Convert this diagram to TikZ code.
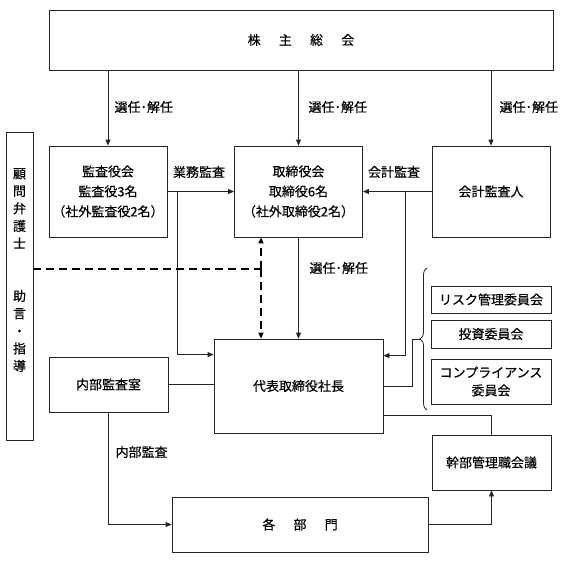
\documentclass[tikz,border=0pt]{standalone}
\usepackage{fontspec}
\setmainfont{Noto Sans CJK JP}[BoldFont={Noto Sans CJK JP},BoldFeatures={FakeBold=0.4}]
\usepackage{tikz}
\usetikzlibrary{arrows.meta}
\usetikzlibrary{decorations.pathreplacing}

\begin{document}
\begin{tikzpicture}[x=1pt,y=-1pt,>={Triangle[length=6pt,width=5pt]},
  every node/.style={font=\fontsize{13pt}{20pt}\selectfont\bfseries},
  box/.style={draw=black!85,line width=0.8pt,inner sep=0pt,align=center},
  line/.style={draw=black!85,line width=0.8pt},
  dashline/.style={draw=black,line width=1.6pt,dash pattern=on 8pt off 5pt}]
  \useasboundingbox (0,0) rectangle (567,567);
  \node [box,minimum width=504,minimum height=60] (kabu) at (301,40) {株\hspace{1.4em}主\hspace{1.4em}総\hspace{1.4em}会};
  \node [box,minimum width=118,minimum height=91] (kansa) at (108,191.5) {監査役会\\監査役3名\\（社外監査役2名）};
  \node [box,minimum width=128,minimum height=91] (tori) at (298.5,191.5) {取締役会\\取締役6名\\（社外取締役2名）};
  \node [box,minimum width=118,minimum height=91] (kaikei) at (491,191.5) {会計監査人};
  \node [box,minimum width=27,minimum height=308] (komon) at (19.5,286) {};
  \node [align=center,inner sep=0pt,font=\fontsize{13pt}{17.5pt}\selectfont\bfseries] (komontext) at (19.5,270)
    {顧\\問\\弁\\護\\士\\[35pt]助\\言\\・\\指\\導};
  \node [box,minimum width=169,minimum height=94] (daihyo) at (298.5,386) {代表取締役社長};
  \node [box,minimum width=119,minimum height=55] (naibu) at (108.5,384.5) {内部監査室};
  \node [box,minimum width=120,minimum height=27] (risk) at (491,299.5) {リスク管理委員会};
  \node [box,minimum width=120,minimum height=28] (toushi) at (491,334) {投資委員会};
  \node [box,minimum width=120,minimum height=45,font=\fontsize{13pt}{18pt}\selectfont\bfseries] (comp) at (491,381.5) {コンプライアンス\\委員会};
  \node [box,minimum width=119,minimum height=55] (kanbu) at (491.5,462.5) {幹部管理職会議};
  \node [box,minimum width=256,minimum height=55] (kakubu) at (300,524.5) {各\hspace{1.4em}部\hspace{1.4em}門};

  \draw[line,->] (kabu.south -| kansa) -- (kansa.north);
  \draw[line,->] (kabu.south -| tori) -- (tori.north);
  \draw[line,->] (kabu.south -| kaikei) -- (kaikei.north);
  \node [anchor=west] (sen1) at (111,107) {選任･解任};
  \node [anchor=west] (sen2) at (305,107) {選任･解任};
  \node [anchor=west] (sen3) at (496,107) {選任･解任};

  \draw[line,->] (kansa.east) -- (tori.west);
  \node (gyomu) at (199,172) {業務監査};
  \coordinate (j1) at (177,191.5);
  \draw[line,->] (j1) |- ([yshift=-16pt]daihyo.north west);
  \draw[line,->] (kaikei.west) -- (tori.east);
  \node (kaikeikansa) at (394,172) {会計監査};
  \coordinate (j2) at (405,191.5);
  \draw[line,->] (j2) |- ([yshift=-17pt]daihyo.north east);

  \draw[line,->] (tori.south) -- (daihyo.north);
  \node [anchor=west] (sen4) at (306,268) {選任･解任};

  \coordinate (d1) at (261,269);
  \draw[dashline] (komon.east |- d1) -- (d1);
  \draw[dashline,->] (d1) -- (tori.south -| d1);
  \draw[dashline,->] (d1) -- (daihyo.north -| d1);

  \draw[line] (naibu.east) -- (daihyo.west |- naibu.east);
  \coordinate (br) at (420,339);
  \draw[line] (daihyo.east) -- ++(29,0) |- (br);
  \draw[line,decorate,decoration={brace,amplitude=7pt}] (427,410) -- (427,268);
  \draw[line] ([yshift=18pt]daihyo.south east) -| (kanbu.north);

  \draw[line,->] (naibu.south) |- (kakubu.west);
  \node [anchor=west] (naibukansa) at (112,452) {内部監査};
  \draw[line,->] (kakubu.east) -| (kanbu.south);
\end{tikzpicture}
\end{document}
